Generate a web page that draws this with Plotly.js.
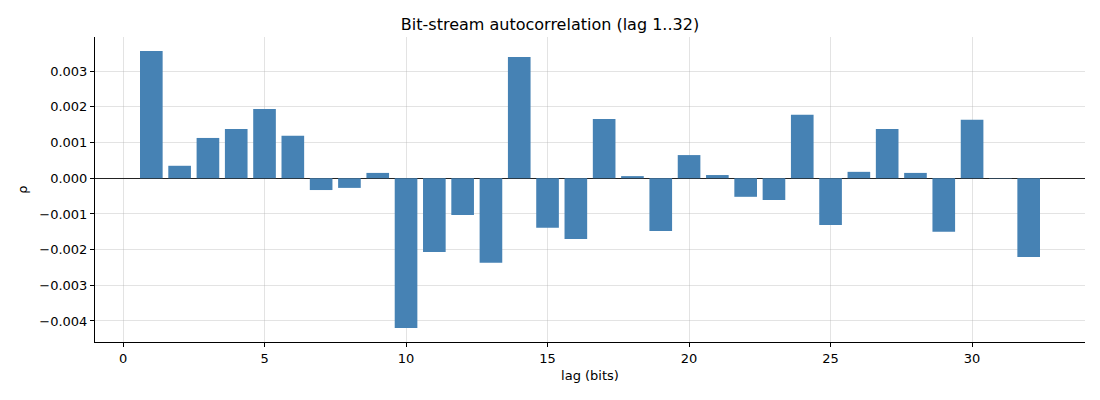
<!DOCTYPE html>
<html>
<head>
<meta charset="utf-8">
<script src="https://cdn.plot.ly/plotly-3.0.1.min.js"></script>
<style>
  html, body { margin: 0; padding: 0; background: #fff; }
  #chart { width: 1100px; height: 400px; }
</style>
</head>
<body>
<div id="chart"></div>
<script>
// Autocorrelation per lag.
const lags = Array.from({ length: 32 }, (_, i) => i + 1);
const rho = [
  0.00357, 0.00035, 0.00113, 0.00138, 0.00194, 0.00119, -0.00033, -0.00027,
  0.00015, -0.00420, -0.00207, -0.00103, -0.00237, 0.00340, -0.00139, -0.00170,
  0.00166, 0.00006, -0.00148, 0.00065, 0.00009, -0.00052, -0.00061, 0.00178,
  -0.00131, 0.00018, 0.00138, 0.00015, -0.00150, 0.00164, -0.00001, -0.00221,
];
const xTicks = [0, 5, 10, 15, 20, 25, 30];
const yTicks = [-0.004, -0.003, -0.002, -0.001, 0, 0.001, 0.002, 0.003];

const FONT = "DejaVu Sans, sans-serif";
const GRID = "rgba(176,176,176,0.35)";

const data = [{
  type: "bar",
  x: lags,
  y: rho,
  width: 0.8,
  marker: { color: "#4682b4", line: { width: 0 } },
  hoverinfo: "x+y",
}];

const layout = {
  width: 1100, height: 400,
  paper_bgcolor: "#fff", plot_bgcolor: "#fff",
  font: { family: FONT, size: 13, color: "#000" },
  margin: { l: 95, r: 15, t: 37, b: 58 },
  title: {
    text: "Bit-stream autocorrelation (lag 1..32)",
    font: { size: 16, color: "#000" },
    x: 0.5, xanchor: "center", y: 0.94, yanchor: "middle",
  },
  showlegend: false,
  xaxis: {
    range: [-0.99, 33.99],
    tickvals: xTicks,
    ticks: "outside", ticklen: 4, tickcolor: "#000",
    showline: true, linecolor: "#000", linewidth: 1, mirror: false,
    showgrid: true, gridcolor: GRID, gridwidth: 1,
    zeroline: false,
    title: { text: "lag (bits)", font: { size: 13 }, standoff: 6 },
  },
  yaxis: {
    range: [-0.00459, 0.00396],
    tickvals: yTicks,
    tickformat: ".3f",
    ticks: "outside", ticklen: 4, tickcolor: "#000",
    showline: true, linecolor: "#000", linewidth: 1, mirror: false,
    showgrid: true, gridcolor: GRID, gridwidth: 1,
    zeroline: true, zerolinecolor: "#222", zerolinewidth: 1,
    title: { text: "ρ", font: { size: 13 }, standoff: 8 },
  },
};

Plotly.newPlot("chart", data, layout, { displayModeBar: false, staticPlot: true });
</script>
</body>
</html>
